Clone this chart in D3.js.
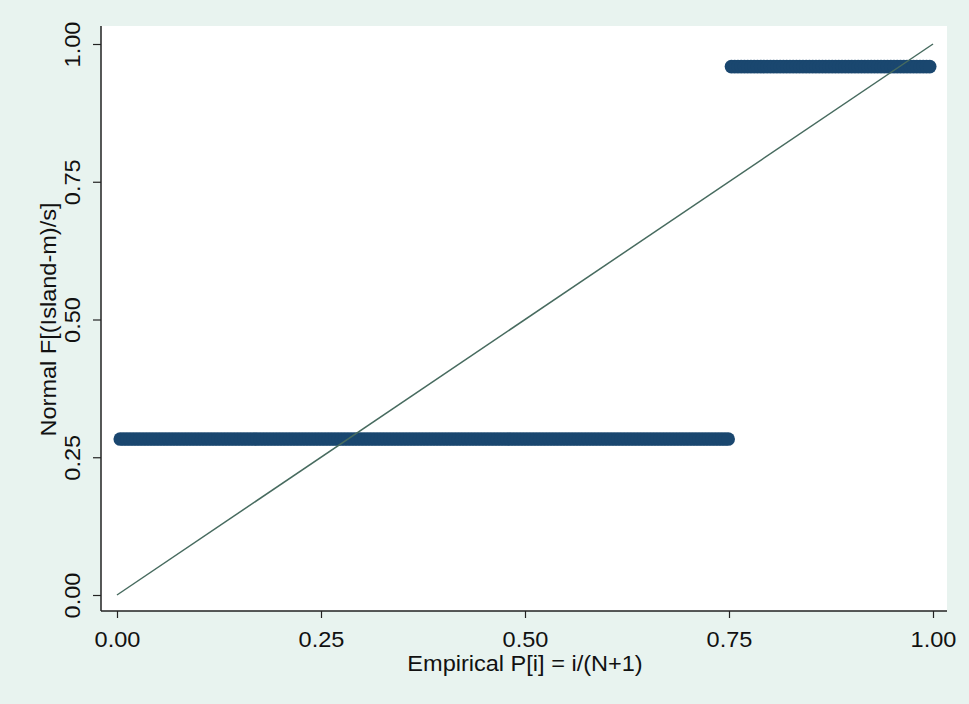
<!DOCTYPE html>
<html>
<head>
<meta charset="utf-8">
<script src="https://cdn.jsdelivr.net/npm/d3@7/dist/d3.min.js"></script>
<style>
  html, body { margin: 0; padding: 0; background: #e8f3ef; }
  svg { display: block; }
  text { font-family: "Liberation Sans", Arial, sans-serif; fill: #111; }
</style>
</head>
<body>
<svg id="chart" width="969" height="704"></svg>
<script>
// ---- data ----
const islandValues = [0, 1];          // the two observed values of Island
const obsCounts    = [188, 62];       // observations at each value (≈75% / 25%)
const normalF      = [0.283, 0.959];  // Normal F[(Island-m)/s] at each value
const xTicks = [0, 0.25, 0.5, 0.75, 1];
const yTicks = [0, 0.25, 0.5, 0.75, 1];
const xTickLabels = ["0.00", "0.25", "0.50", "0.75", "1.00"];
const yTickLabels = ["0.00", "0.25", "0.50", "0.75", "1.00"];
const refLine = [[0, 0], [1, 1]];

// empirical P[i] = i/(N+1) for the ranked observations
const N = d3.sum(obsCounts);
const points = [];
let rank = 0;
islandValues.forEach((v, g) => {
  for (let k = 0; k < obsCounts[g]; k++) {
    rank += 1;
    points.push({ p: rank / (N + 1), f: normalF[g] });
  }
});

const svg = d3.select("#chart");
const W = 969, H = 704;
svg.append("rect").attr("width", W).attr("height", H).attr("fill", "#e8f3ef");

const plot = { left: 101, right: 947, top: 26, bottom: 611 };
const x = d3.scaleLinear().domain([0, 1]).range([117, 933]);
const y = d3.scaleLinear().domain([0, 1]).range([595, 44]);

svg.append("rect")
  .attr("x", plot.left).attr("y", plot.top)
  .attr("width", plot.right - plot.left).attr("height", plot.bottom - plot.top)
  .attr("fill", "#ffffff");

// markers
svg.append("g").selectAll("circle").data(points).join("circle")
  .attr("cx", d => x(d.p)).attr("cy", d => y(d.f)).attr("r", 6.8)
  .attr("fill", "#1a476f");

// reference line
svg.append("path")
  .attr("d", d3.line().x(d => x(d[0])).y(d => y(d[1]))(refLine))
  .attr("fill", "none").attr("stroke", "#476b5f").attr("stroke-width", 1.5);

// axes
const xAxis = d3.axisBottom(x).tickValues(xTicks).tickSize(7)
  .tickFormat((d, i) => xTickLabels[i]);
const gx = svg.append("g").attr("transform", `translate(0,${plot.bottom})`).call(xAxis);
gx.select(".domain").attr("d", `M${plot.left},0H${plot.right}`).attr("stroke", "#222").attr("stroke-width", 1.5);
gx.selectAll(".tick line").attr("stroke", "#222").attr("stroke-width", 1.2);
gx.selectAll(".tick text").attr("y", 0).attr("dy", 0)
  .attr("transform", "translate(0,36) scale(1.07,1)")
  .style("font-size", "22px").attr("fill", "#111");

const yAxis = d3.axisLeft(y).tickValues(yTicks).tickSize(8)
  .tickFormat((d, i) => yTickLabels[i]);
const gy = svg.append("g").attr("transform", `translate(${plot.left},0)`).call(yAxis);
gy.select(".domain").attr("d", `M0,${plot.top}V${plot.bottom}`).attr("stroke", "#222").attr("stroke-width", 1.5);
gy.selectAll(".tick line").attr("stroke", "#222").attr("stroke-width", 1.2);
gy.selectAll(".tick text").attr("x", 0).attr("dy", 0)
  .attr("text-anchor", "middle")
  .attr("transform", "translate(-21,0) rotate(-90) scale(1.07,1)")
  .style("font-size", "22px").attr("fill", "#111");

// axis titles
svg.append("text")
  .attr("transform", `translate(${x(0.5)},671) scale(1.07,1)`)
  .attr("text-anchor", "middle").style("font-size", "22px")
  .text("Empirical P[i] = i/(N+1)");
svg.append("text")
  .attr("transform", `translate(56,${y(0.5)}) rotate(-90) scale(1.07,1)`)
  .attr("text-anchor", "middle").style("font-size", "22px")
  .text("Normal F[(Island-m)/s]");
</script>
</body>
</html>
